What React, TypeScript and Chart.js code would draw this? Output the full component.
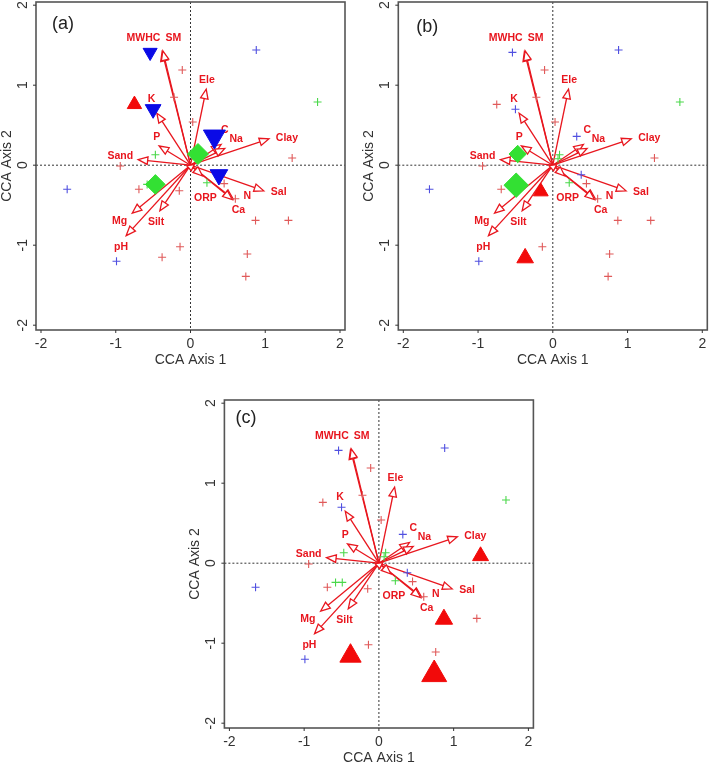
import React, { useEffect, useRef } from "react";
import { Chart, registerables } from "chart.js";

Chart.register(...registerables);

// ---------- axes ----------
const xTicks = [-2, -1, 0, 1, 2];
const yTicks = [-2, -1, 0, 1, 2];
const xTitle = "CCA Axis 1";
const yTitle = "CCA Axis 2";
const xMin = -2.067;
const xMax = 2.067;
const yMin = -2.06;
const yMax = 2.04;

// ---------- environmental vectors (biplot arrows) ----------
const envNames = ["MWHC", "SM", "Ele", "K", "P", "Sand", "C", "Na", "Clay", "Sal", "N", "Ca", "ORP", "Mg", "pH", "Silt", ""];
const envX = [-0.38, -0.37, 0.21, -0.45, -0.42, -0.70, 0.41, 0.46, 1.05, 0.98, 0.57, 0.56, 0.16, -0.78, -0.86, -0.41, 0.01];
const envY = [1.42, 1.43, 0.95, 0.65, 0.24, 0.07, 0.26, 0.21, 0.33, -0.32, -0.42, -0.43, -0.135, -0.60, -0.88, -0.57, -0.07];
const envLabelX = [-0.63, -0.23, 0.22, -0.52, -0.45, -0.94, 0.46, 0.61, 1.29, 1.18, 0.76, 0.64, 0.20, -0.95, -0.93, -0.46, 0];
const envLabelY = [1.59, 1.59, 1.06, 0.83, 0.35, 0.115, 0.44, 0.32, 0.34, -0.34, -0.39, -0.56, -0.41, -0.70, -1.02, -0.71, 0];

// ---------- species scores (crosses) ----------
const blueSpX = [-0.54, 0.88, -0.50, 0.32, 0.38, -1.65, -0.99];
const blueSpY = [1.41, 1.44, 0.70, 0.36, -0.12, -0.30, -1.20];
const redSpX = [-0.11, -0.22, -0.75, 0.03, 1.36, -0.94, -0.69, -0.15, 0.45, 0.60, 0.87, 1.31, -0.14, -0.38, 0.76, 0.74];
const redSpY = [1.19, 0.85, 0.76, 0.54, 0.09, -0.01, -0.30, -0.32, -0.23, -0.42, -0.69, -0.69, -1.02, -1.15, -1.11, -1.39];
const greenSpX = [1.70, -0.47, -0.58, -0.49, 0.09, 0.07, 0.22];
const greenSpY = [0.79, 0.13, -0.24, -0.24, 0.13, 0.08, -0.22];

// ---------- highlighted taxa per panel ----------
// (a)
const aBlueX = [-0.54, -0.50, 0.32, 0.38];
const aBlueY = [1.41, 0.70, 0.36, -0.12];
const aBlueSize = [8.1, 9.1, 12.7, 10.2];
const aRedX = [-0.75];
const aRedY = [0.76];
const aRedSize = [8.3];
const aGreenX = [0.10, -0.47];
const aGreenY = [0.14, -0.24];
const aGreenSize = [10.5, 9.8];
// (b)
const bGreenX = [-0.47, -0.49];
const bGreenY = [0.14, -0.25];
const bGreenSize = [8.7, 12.2];
const bRedX = [-0.16, -0.37];
const bRedY = [-0.33, -1.16];
const bRedSize = [8.5, 9.6];
// (c)
const cRedX = [1.36, 0.87, -0.38, 0.74];
const cRedY = [0.09, -0.70, -1.16, -1.39];
const cRedSize = [9.2, 10.0, 12.3, 14.4];

const RED = "#e8161e";
const FONT = "'Liberation Sans', Arial, sans-serif";

const pts = (xs: number[], ys: number[]) => xs.map((x, i) => ({ x, y: ys[i] }));

const biplotPlugin = {
  id: "biplot",
  beforeDatasetsDraw(chart: any) {
    const { ctx, chartArea: ca, scales } = chart;
    const sx = scales.x;
    const sy = scales.y;
    const x0 = sx.getPixelForValue(0);
    const y0 = sy.getPixelForValue(0);
    ctx.save();
    // zero lines
    ctx.strokeStyle = "#333";
    ctx.lineWidth = 1;
    ctx.setLineDash([2, 2]);
    ctx.beginPath();
    ctx.moveTo(x0, ca.top);
    ctx.lineTo(x0, ca.bottom);
    ctx.moveTo(ca.left, y0);
    ctx.lineTo(ca.right, y0);
    ctx.stroke();
    ctx.setLineDash([]);
    // arrows
    ctx.strokeStyle = RED;
    ctx.lineWidth = 1.3;
    for (let i = 0; i < envNames.length; i++) {
      const tx = sx.getPixelForValue(envX[i]);
      const ty = sy.getPixelForValue(envY[i]);
      const dx = tx - x0;
      const dy = ty - y0;
      const len = Math.hypot(dx, dy) || 1;
      const ux = dx / len;
      const uy = dy / len;
      const L = Math.min(9.5, len);
      const W = 3.8;
      ctx.beginPath();
      ctx.moveTo(x0, y0);
      ctx.lineTo(tx - ux * L, ty - uy * L);
      ctx.stroke();
      const bx = tx - ux * L;
      const by = ty - uy * L;
      ctx.beginPath();
      ctx.moveTo(tx, ty);
      ctx.lineTo(bx - uy * W, by + ux * W);
      ctx.lineTo(bx + uy * W, by - ux * W);
      ctx.closePath();
      ctx.fillStyle = "#ffffff";
      ctx.fill();
      ctx.stroke();
    }
    // labels
    ctx.fillStyle = RED;
    ctx.font = `bold 10.5px ${FONT}`;
    ctx.textAlign = "center";
    ctx.textBaseline = "middle";
    for (let i = 0; i < envNames.length; i++) {
      if (!envNames[i]) continue;
      ctx.fillText(envNames[i], sx.getPixelForValue(envLabelX[i]), sy.getPixelForValue(envLabelY[i]));
    }
    ctx.restore();
  },
  afterDraw(chart: any) {
    const { ctx, chartArea: ca, scales } = chart;
    const sx = scales.x;
    const sy = scales.y;
    const tag = chart.options.plugins.biplot.tag;
    ctx.save();
    ctx.strokeStyle = "#555";
    ctx.lineWidth = 1.6;
    ctx.strokeRect(ca.left, ca.top, ca.right - ca.left, ca.bottom - ca.top);
    ctx.lineWidth = 1;
    ctx.strokeStyle = "#333";
    ctx.beginPath();
    for (const t of xTicks) {
      const px = sx.getPixelForValue(t);
      ctx.moveTo(px, ca.bottom);
      ctx.lineTo(px, ca.bottom + 3);
    }
    for (const t of yTicks) {
      const py = sy.getPixelForValue(t);
      ctx.moveTo(ca.left, py);
      ctx.lineTo(ca.left - 3, py);
    }
    ctx.stroke();
    ctx.fillStyle = "#333";
    ctx.font = `14px ${FONT}`;
    ctx.textAlign = "center";
    ctx.textBaseline = "middle";
    for (const t of xTicks) {
      ctx.fillText(String(t), sx.getPixelForValue(t), ca.bottom + 14.5);
    }
    for (const t of yTicks) {
      ctx.save();
      ctx.translate(ca.left - 13, sy.getPixelForValue(t));
      ctx.rotate(-Math.PI / 2);
      ctx.fillText(String(t), 0, 0);
      ctx.restore();
    }
    ctx.font = `14px ${FONT}`;
    ctx.fillText(xTitle, (ca.left + ca.right) / 2, ca.bottom + 30);
    ctx.save();
    ctx.translate(ca.left - 29, (ca.top + ca.bottom) / 2);
    ctx.rotate(-Math.PI / 2);
    ctx.fillText(yTitle, 0, 0);
    ctx.restore();
    ctx.fillStyle = "#222";
    ctx.font = `18px ${FONT}`;
    ctx.fillText(tag.text, ca.left + tag.dx, ca.top + tag.dy);
    ctx.restore();
  },
};

const crossSets = () => [
  { label: "sp-blue", data: pts(blueSpX, blueSpY), pointStyle: "cross", pointRadius: 4, borderColor: "#5050e0", borderWidth: 1.1, order: 5 },
  { label: "sp-red", data: pts(redSpX, redSpY), pointStyle: "cross", pointRadius: 4, borderColor: "#e05a5a", borderWidth: 1.1, order: 4 },
  { label: "sp-green", data: pts(greenSpX, greenSpY), pointStyle: "cross", pointRadius: 4, borderColor: "#4ad84a", borderWidth: 1.1, order: 3 },
];

const blueTri = (xs: number[], ys: number[], r: number[]) => ({
  label: "blue", data: pts(xs, ys), pointStyle: "triangle", pointRotation: 180, pointRadius: r,
  backgroundColor: "#0a0ae6", borderColor: "#0a0ae6", borderWidth: 1, order: 1,
});
const redTri = (xs: number[], ys: number[], r: number[]) => ({
  label: "red", data: pts(xs, ys), pointStyle: "triangle", pointRadius: r,
  backgroundColor: "#f20a0a", borderColor: "#f20a0a", borderWidth: 1, order: 1,
});
const greenDia = (xs: number[], ys: number[], r: number[]) => ({
  label: "green", data: pts(xs, ys), pointStyle: "rectRot", pointRadius: r,
  backgroundColor: "#33e033", borderColor: "#33e033", borderWidth: 1, order: 1,
});

type PanelCfg = {
  left: number; top: number; w: number; h: number;
  pad: { left: number; top: number; right: number; bottom: number };
  tag: { text: string; dx: number; dy: number };
  markers: () => any[];
};

const panels: PanelCfg[] = [
  {
    left: 0, top: 0, w: 355, h: 372,
    pad: { left: 36, top: 2, right: 10, bottom: 42 },
    tag: { text: "(a)", dx: 27, dy: 22 },
    markers: () => [greenDia(aGreenX, aGreenY, aGreenSize), redTri(aRedX, aRedY, aRedSize), blueTri(aBlueX, aBlueY, aBlueSize)],
  },
  {
    left: 360, top: 0, w: 349, h: 372,
    pad: { left: 38.3, top: 2, right: 1.7, bottom: 42 },
    tag: { text: "(b)", dx: 29, dy: 25 },
    markers: () => [greenDia(bGreenX, bGreenY, bGreenSize), redTri(bRedX, bRedY, bRedSize)],
  },
  {
    left: 180, top: 380, w: 360, h: 386,
    pad: { left: 44.4, top: 20, right: 6.6, bottom: 38 },
    tag: { text: "(c)", dx: 21.5, dy: 18 },
    markers: () => [redTri(cRedX, cRedY, cRedSize)],
  },
];

function Panel({ cfg }: { cfg: PanelCfg }) {
  const ref = useRef<HTMLCanvasElement>(null);
  useEffect(() => {
    if (!ref.current) return;
    const chart = new Chart(ref.current, {
      type: "scatter",
      data: { datasets: [...cfg.markers(), ...crossSets()] as any },
      options: {
        responsive: false,
        maintainAspectRatio: false,
        animation: false,
        events: [],
        devicePixelRatio: 1,
        layout: { padding: cfg.pad, autoPadding: false },
        scales: {
          x: { type: "linear", min: xMin, max: xMax, display: false },
          y: { type: "linear", min: yMin, max: yMax, display: false },
        },
        plugins: {
          legend: { display: false },
          tooltip: { enabled: false },
          title: { display: false },
          biplot: { tag: cfg.tag },
        } as any,
      },
      plugins: [biplotPlugin as any],
    });
    return () => chart.destroy();
  }, []);
  return (
    <canvas
      ref={ref}
      width={cfg.w}
      height={cfg.h}
      style={{ position: "absolute", left: cfg.left, top: cfg.top, width: cfg.w, height: cfg.h }}
    />
  );
}

export default function App() {
  return (
    <div style={{ position: "absolute", left: 0, top: 0, width: 709, height: 766, background: "#ffffff", overflow: "hidden" }}>
      {panels.map((p, i) => (
        <Panel key={i} cfg={p} />
      ))}
    </div>
  );
}
